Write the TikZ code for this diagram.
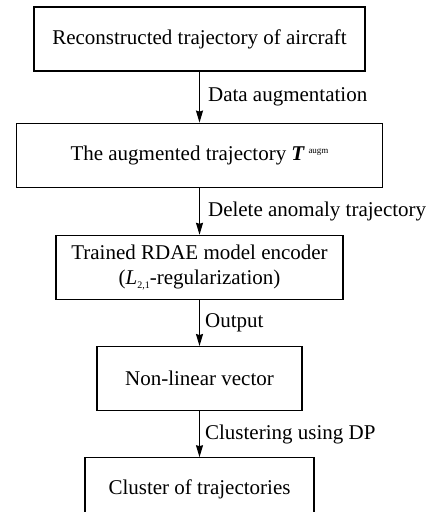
\documentclass[tikz,border=0pt]{standalone}
\usepackage{fontspec}
\setmainfont{Liberation Serif}
\usetikzlibrary{arrows.meta, positioning}

\begin{document}
\begin{tikzpicture}[
x=1pt, y=1pt,
font=\fontsize{21}{25}\selectfont,
% Define block styles
process/.style = {rectangle, minimum height=64pt, text centered, align=center, draw=black, line width=1.2pt, inner sep=0pt},
arrow/.style = {line width=1.2pt, -{Stealth[length=12pt, width=7pt, inset=1pt]}},
label/.style = {anchor=west, inner sep=0pt, xshift=8pt}
]
\useasboundingbox (0,0) rectangle (437,-512);

% Nodes
\node (recon) [process, minimum width=331pt] at (199.5,-39) {Reconstructed trajectory of aircraft};
\node (augm) [process, minimum width=366pt, below=51pt of recon] {The augmented trajectory \textbf{\textit{T}}\,\raisebox{7pt}{\fontsize{9}{9}\selectfont augm}};
\node (encoder) [process, minimum width=287pt, below=47pt of augm] {Trained RDAE model encoder\\(\textit{L}\raisebox{-4pt}{\fontsize{10}{10}\selectfont 2,1}-regularization)};
\node (vector) [process, minimum width=205pt, below=46pt of encoder] {Non-linear vector};
\node (cluster) [process, minimum width=229pt, below=46pt of vector] {Cluster of trajectories};

% Arrows
\draw [arrow] (recon) -- node[label] {Data augmentation} (augm);
\draw [arrow] (augm) -- node[label] {Delete anomaly trajectory} (encoder);
\draw [arrow] (encoder) -- node[label, xshift=-3pt] {Output} (vector);
\draw [arrow] (vector) -- node[label, xshift=-3pt] {Clustering using DP} (cluster);
\end{tikzpicture}
\end{document}
